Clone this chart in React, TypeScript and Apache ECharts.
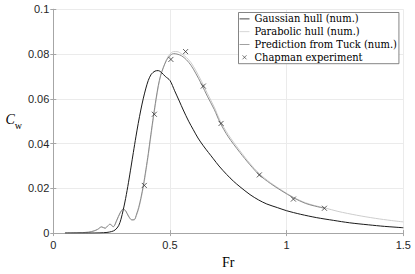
import React, { useEffect, useRef } from "react";
import * as echarts from "echarts";

const seriesNames = [
  "Gaussian hull (num.)",
  "Parabolic hull (num.)",
  "Prediction from Tuck (num.)",
  "Chapman experiment",
];

const xTickLabels = ["0", "0.5", "1", "1.5"];
const yTickLabels = ["0", "0.02", "0.04", "0.06", "0.08", "0.1"];

const gaussFr = [0.05, 0.15, 0.2, 0.23, 0.25, 0.265, 0.28, 0.29, 0.3, 0.31, 0.322, 0.333, 0.343, 0.354, 0.364, 0.375, 0.386, 0.397, 0.407, 0.42, 0.436, 0.45, 0.465, 0.48, 0.5, 0.52, 0.54, 0.557, 0.58, 0.6, 0.62, 0.643, 0.665, 0.686, 0.71, 0.743, 0.772, 0.8, 0.843, 0.88, 0.915, 0.96, 1.0, 1.06, 1.129, 1.2, 1.27, 1.35, 1.42, 1.5];
const gaussCw = [0, 0.00002, 0.0001, 0.0003, 0.0007, 0.0014, 0.0033, 0.0062, 0.0105, 0.0155, 0.0225, 0.0295, 0.036, 0.043, 0.049, 0.055, 0.0603, 0.0648, 0.0682, 0.071, 0.0724, 0.0726, 0.0716, 0.07, 0.0682, 0.0636, 0.059, 0.055, 0.05, 0.0462, 0.0425, 0.039, 0.036, 0.0332, 0.03, 0.0262, 0.0232, 0.0207, 0.0172, 0.0148, 0.013, 0.0114, 0.01, 0.0084, 0.0069, 0.0057, 0.0046, 0.0037, 0.003, 0.0024];

const tuckFr = [0.05, 0.1, 0.15, 0.175, 0.19, 0.207, 0.222, 0.233, 0.243, 0.257, 0.272, 0.286, 0.3, 0.311, 0.322, 0.336, 0.347, 0.357, 0.366, 0.375, 0.386, 0.397, 0.407, 0.418, 0.429, 0.44, 0.45, 0.46, 0.471, 0.485, 0.5, 0.515, 0.53, 0.55, 0.57, 0.59, 0.61, 0.636, 0.66, 0.69, 0.714, 0.75, 0.8, 0.843, 0.883, 0.93, 0.98, 1.029, 1.08, 1.12, 1.162];
const tuckCw = [0, 0.0001, 0.0004, 0.001, 0.0017, 0.0028, 0.0022, 0.0032, 0.004, 0.0029, 0.0058, 0.009, 0.0108, 0.0098, 0.0076, 0.0059, 0.006, 0.0085, 0.0115, 0.0155, 0.0214, 0.0285, 0.0355, 0.044, 0.0522, 0.0598, 0.066, 0.0705, 0.0738, 0.0772, 0.0793, 0.0802, 0.08, 0.0792, 0.0775, 0.075, 0.0715, 0.0664, 0.0612, 0.0552, 0.0495, 0.043, 0.036, 0.0305, 0.026, 0.0222, 0.0188, 0.0158, 0.0133, 0.0121, 0.0111];

const paraFr = [0.05, 0.1, 0.15, 0.175, 0.19, 0.207, 0.222, 0.233, 0.243, 0.257, 0.272, 0.286, 0.3, 0.311, 0.322, 0.336, 0.347, 0.357, 0.366, 0.375, 0.386, 0.397, 0.407, 0.418, 0.429, 0.44, 0.45, 0.46, 0.471, 0.485, 0.5, 0.515, 0.53, 0.55, 0.57, 0.59, 0.61, 0.636, 0.66, 0.69, 0.714, 0.75, 0.8, 0.843, 0.883, 0.93, 0.98, 1.029, 1.08, 1.12, 1.162, 1.22, 1.3, 1.38, 1.45, 1.5];
const paraCw = [0, 0.0001, 0.0004, 0.001, 0.0016, 0.0027, 0.0021, 0.0031, 0.0039, 0.0028, 0.0055, 0.0088, 0.0107, 0.0098, 0.0077, 0.006, 0.0059, 0.008, 0.0108, 0.0148, 0.0205, 0.0275, 0.0345, 0.043, 0.0512, 0.059, 0.0653, 0.0702, 0.0738, 0.0775, 0.08, 0.0811, 0.0811, 0.0801, 0.0785, 0.0762, 0.0728, 0.0677, 0.0625, 0.0563, 0.0505, 0.044, 0.0368, 0.0311, 0.0266, 0.0226, 0.0191, 0.016, 0.0136, 0.0123, 0.0113, 0.0097, 0.008, 0.0066, 0.0056, 0.005];

const chapFr = [0.39, 0.433, 0.504, 0.567, 0.643, 0.719, 0.883, 1.029, 1.162];
const chapCw = [0.0213, 0.0531, 0.0776, 0.0811, 0.0657, 0.049, 0.026, 0.0152, 0.0111];

const pairs = (xs: number[], ys: number[]) => xs.map((x, i) => [x, ys[i]]);

const AXIS_COLOR = "#a6a6a6";
const GRID_COLOR = "#ebebeb";
const SERIF = "'Liberation Serif', 'DejaVu Serif', serif";
const LEGEND_SERIF = "'DejaVu Serif Condensed', 'Liberation Serif', serif";
const SANS = "'Liberation Sans', Arial, sans-serif";
const C_GAUSS = "#1a1a1a";
const C_PARA = "#cdcdcd";
const C_TUCK = "#8a8a8a";
const C_CHAP = "#333333";
const LINE_ICON = "path://M0,0L20,0L20,1.6L0,1.6Z";
const CROSS_ICON = "path://M0,0L10,10M10,0L0,10";

export default function App() {
  const ref = useRef<HTMLDivElement>(null);
  useEffect(() => {
    if (!ref.current) return;
    const chart = echarts.init(ref.current, null, { renderer: "svg" });
    const xAxisCommon = { type: "value" as const, min: 0, max: 1.5, interval: 0.5 };
    const yAxisCommon = { type: "value" as const, min: 0, max: 0.1, interval: 0.02 };
    chart.setOption({
      animation: false,
      backgroundColor: "#ffffff",
      grid: { left: 53.3, right: 11.7, top: 9.3, bottom: 34, containLabel: false },
      legend: {
        orient: "vertical",
        left: 238.5,
        top: 12.5,
        padding: [0, 2, 0, 1],
        itemGap: 0,
        itemWidth: 10,
        itemHeight: 4,
        symbolKeepAspect: true,
        borderColor: "#666",
        borderWidth: 0.8,
        backgroundColor: "#fff",
        data: [
          { name: seriesNames[0], icon: LINE_ICON, itemStyle: { color: C_GAUSS, borderWidth: 0 } },
          { name: seriesNames[1], icon: LINE_ICON, itemStyle: { color: C_PARA, borderWidth: 0 } },
          { name: seriesNames[2], icon: LINE_ICON, itemStyle: { color: C_TUCK, borderWidth: 0 } },
          { name: seriesNames[3], icon: CROSS_ICON, itemStyle: { color: "none", borderColor: C_CHAP, borderWidth: 0.8 } },
        ],
        textStyle: { fontFamily: LEGEND_SERIF, fontSize: 11, color: "#000", lineHeight: 12.8 },
      },
      xAxis: [
        {
          ...xAxisCommon,
          position: "bottom",
          name: "Fr",
          nameLocation: "middle",
          nameGap: 18,
          nameTextStyle: { fontFamily: SERIF, fontSize: 14, color: "#000" },
          axisLine: { show: true, lineStyle: { color: AXIS_COLOR, width: 1 } },
          axisTick: { show: true, inside: true, length: 3, lineStyle: { color: AXIS_COLOR } },
          axisLabel: {
            fontFamily: SANS,
            fontSize: 11,
            color: "#262626",
            margin: 6,
            formatter: (v: number) => xTickLabels[Math.round(v / 0.5)] ?? "",
          },
          splitLine: { show: true, lineStyle: { color: GRID_COLOR, width: 1 } },
        },
        {
          ...xAxisCommon,
          position: "top",
          axisLine: { show: true, lineStyle: { color: AXIS_COLOR, width: 1 } },
          axisTick: { show: true, inside: true, length: 3, lineStyle: { color: AXIS_COLOR } },
          axisLabel: { show: false },
          splitLine: { show: false },
        },
      ],
      yAxis: [
        {
          ...yAxisCommon,
          position: "left",
          name: "{c|C}{w|w}",
          nameLocation: "middle",
          nameRotate: 0,
          nameGap: 31,
          nameTextStyle: {
            rich: {
              c: { fontFamily: SERIF, fontStyle: "italic", fontSize: 14, color: "#000", verticalAlign: "top", lineHeight: 18 },
              w: { fontFamily: SERIF, fontSize: 10, color: "#000", verticalAlign: "bottom", lineHeight: 18, padding: [6, 0, 0, 0] },
            },
          },
          axisLine: { show: true, lineStyle: { color: AXIS_COLOR, width: 1 } },
          axisTick: { show: true, inside: true, length: 3, lineStyle: { color: AXIS_COLOR } },
          axisLabel: {
            fontFamily: SANS,
            fontSize: 11,
            color: "#262626",
            margin: 4,
            formatter: (v: number) => yTickLabels[Math.round(v / 0.02)] ?? "",
          },
          splitLine: { show: true, lineStyle: { color: GRID_COLOR, width: 1 } },
        },
        {
          ...yAxisCommon,
          position: "right",
          axisLine: { show: true, lineStyle: { color: AXIS_COLOR, width: 1 } },
          axisTick: { show: true, inside: true, length: 3, lineStyle: { color: AXIS_COLOR } },
          axisLabel: { show: false },
          splitLine: { show: false },
        },
      ],
      series: [
        {
          name: seriesNames[1],
          type: "line",
          data: pairs(paraFr, paraCw),
          showSymbol: false,
          symbol: "none",
          smooth: 0.3,
          lineStyle: { color: C_PARA, width: 1 },
          itemStyle: { color: C_PARA },
          z: 2,
        },
        {
          name: seriesNames[2],
          type: "line",
          data: pairs(tuckFr, tuckCw),
          showSymbol: false,
          symbol: "none",
          smooth: 0.3,
          lineStyle: { color: C_TUCK, width: 1 },
          itemStyle: { color: C_TUCK },
          z: 3,
        },
        {
          name: seriesNames[0],
          type: "line",
          data: pairs(gaussFr, gaussCw),
          showSymbol: false,
          symbol: "none",
          smooth: 0.3,
          lineStyle: { color: C_GAUSS, width: 1 },
          itemStyle: { color: C_GAUSS },
          z: 4,
        },
        {
          name: seriesNames[3],
          type: "scatter",
          data: pairs(chapFr, chapCw),
          symbol: CROSS_ICON,
          symbolSize: 5,
          itemStyle: { color: "none", borderColor: C_CHAP, borderWidth: 1 },
          z: 5,
        },
      ],
    });
    return () => chart.dispose();
  }, []);
  return <div ref={ref} style={{ width: 415, height: 274, position: "absolute", left: 0, top: 0 }} />;
}
